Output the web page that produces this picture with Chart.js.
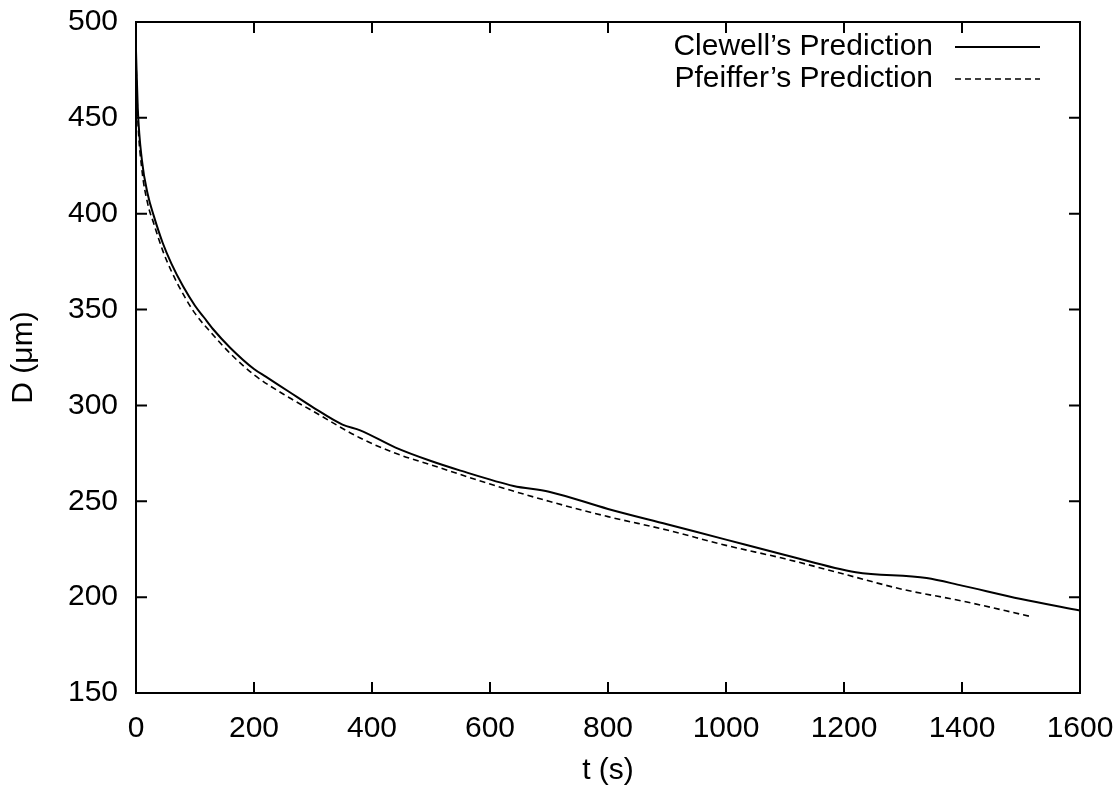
<!DOCTYPE html>
<html lang="en">
<head>
    <meta charset="UTF-8">
    <title>Droplet diameter vs time</title>
    <script src="https://cdn.jsdelivr.net/npm/chart.js"></script>
    <style>
        html, body { margin: 0; padding: 0; background: white; }
        #wrap { width: 1120px; height: 791px; position: relative; }
    </style>
</head>
<body>
    <div id="wrap"><canvas id="chart"></canvas></div>

    <script>
        // values
        const clewellT = [0, 3, 10, 20, 30, 45, 60, 80, 100, 115, 130, 160, 200, 220, 260, 300, 350, 380, 440, 500, 550, 640, 700, 800, 900, 1000, 1100, 1220, 1340, 1400, 1500, 1600];
        const clewellD = [485, 455, 428, 410, 399, 385, 374, 362, 352, 346, 340, 330, 319, 315, 307, 299, 290, 287, 278, 271, 266, 258, 255, 246, 238, 230, 222, 213, 210, 206, 199, 193];

        const pfeifferT = [0, 3, 10, 20, 30, 45, 60, 80, 100, 130, 160, 200, 260, 300, 380, 440, 500, 600, 700, 800, 900, 1000, 1100, 1200, 1300, 1400, 1515];
        const pfeifferD = [480, 450, 423, 405, 395, 381, 370, 358, 348, 337, 327, 316, 304, 297, 283, 275, 269, 259, 250, 242, 235, 227, 220, 212, 204, 198, 190];

        const seriesNames = ["Clewell\u2019s Prediction", "Pfeiffer\u2019s Prediction"];
        const xTitle = "t (s)";
        const yTitle = "D (\u03bcm)";

        const FONT = "'Liberation Sans', Arial, sans-serif";
        const FSIZE = 30;

        function toPoints(ts, ds) {
            return ts.map((t, i) => ({ x: t, y: ds[i] }));
        }

        // box around the plot, gnuplot style inward ticks, and legend inside the frame
        const framePlugin = {
            id: "frame",
            afterDraw(chart) {
                const ctx = chart.ctx;
                const a = chart.chartArea;
                const xs = chart.scales.x, ys = chart.scales.y;
                ctx.save();
                ctx.strokeStyle = "#000";
                ctx.lineWidth = 2;
                ctx.strokeRect(a.left, a.top, a.right - a.left, a.bottom - a.top);

                ctx.beginPath();
                xs.ticks.forEach(tk => {
                    const px = xs.getPixelForValue(tk.value);
                    ctx.moveTo(px, a.bottom); ctx.lineTo(px, a.bottom - 11);
                    ctx.moveTo(px, a.top); ctx.lineTo(px, a.top + 11);
                });
                ys.ticks.forEach(tk => {
                    const py = ys.getPixelForValue(tk.value);
                    ctx.moveTo(a.left, py); ctx.lineTo(a.left + 11, py);
                    ctx.moveTo(a.right, py); ctx.lineTo(a.right - 11, py);
                });
                ctx.stroke();

                // legend
                ctx.font = FSIZE + "px " + FONT;
                ctx.fillStyle = "#000";
                ctx.textAlign = "right";
                ctx.textBaseline = "middle";
                chart.data.datasets.forEach((ds, i) => {
                    const y = a.top + 25 + i * 32;
                    ctx.fillText(ds.label, a.right - 147, y);
                    ctx.beginPath();
                    ctx.lineWidth = ds.borderWidth;
                    ctx.setLineDash(ds.borderDash || []);
                    ctx.moveTo(a.right - 125, y);
                    ctx.lineTo(a.right - 40, y);
                    ctx.stroke();
                });
                ctx.restore();
            }
        };

        const ctx = document.getElementById("chart").getContext("2d");
        new Chart(ctx, {
            type: "line",
            data: {
                datasets: [{
                    label: seriesNames[0],
                    data: toPoints(clewellT, clewellD),
                    borderColor: "#000",
                    borderWidth: 2,
                    pointRadius: 0,
                    fill: false,
                    cubicInterpolationMode: "monotone"
                }, {
                    label: seriesNames[1],
                    data: toPoints(pfeifferT, pfeifferD),
                    borderColor: "#000",
                    borderWidth: 1.6,
                    borderDash: [6, 4],
                    pointRadius: 0,
                    fill: false,
                    cubicInterpolationMode: "monotone"
                }]
            },
            options: {
                responsive: true,
                maintainAspectRatio: false,
                animation: false,
                layout: { padding: { left: 0, right: 40, top: 22, bottom: 0 } },
                plugins: {
                    legend: { display: false },
                    tooltip: { enabled: false }
                },
                scales: {
                    x: {
                        type: "linear",
                        min: 0, max: 1600,
                        grid: { display: false },
                        border: { display: false },
                        ticks: { stepSize: 200, color: "#000", padding: 10, maxRotation: 0, font: { family: FONT, size: FSIZE },
                                 callback: v => String(v) },
                        title: { display: true, text: xTitle, color: "#000", font: { family: FONT, size: FSIZE }, padding: { top: 0, bottom: 2 } },
                        afterFit(scale) {
                            scale.height = 98;
                            scale.paddingLeft = 0;
                            scale.paddingRight = 0;
                        }
                    },
                    y: {
                        min: 150, max: 500,
                        grid: { display: false },
                        border: { display: false },
                        ticks: { stepSize: 50, color: "#000", padding: 10, font: { family: FONT, size: FSIZE } },
                        title: { display: true, text: yTitle, color: "#000", font: { family: FONT, size: FSIZE }, padding: { top: 6, bottom: 6 } },
                        afterFit(scale) {
                            scale.width = 136;
                            scale.paddingTop = 0;
                            scale.paddingBottom = 0;
                        }
                    }
                }
            },
            plugins: [framePlugin]
        });
    </script>
</body>
</html>
